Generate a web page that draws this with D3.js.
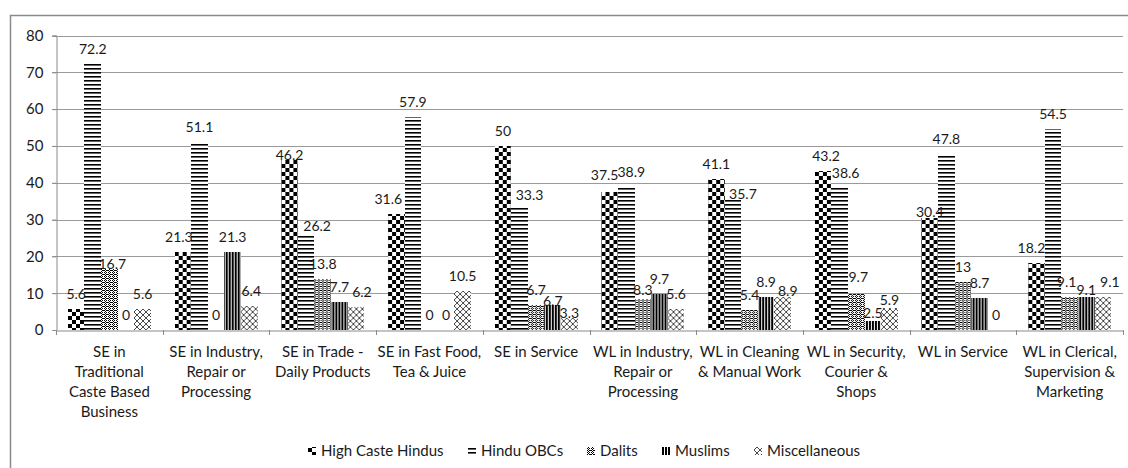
<!DOCTYPE html>
<html>
<head>
<meta charset="utf-8">
<script src="https://cdn.jsdelivr.net/npm/d3@7"></script>
<style>
  html, body { margin: 0; padding: 0; background: #fff; }
  svg { display: block; }
  text { font-family: Lato, "Liberation Sans", sans-serif; fill: #1a1a1a; }
</style>
</head>
<body>
<svg id="chart" width="1128" height="468"></svg>
<script>
// ---------- data ----------
const categoryLines = [
  ["SE in", "Traditional", "Caste Based", "Business"],
  ["SE in Industry,", "Repair or", "Processing"],
  ["SE in Trade -", "Daily Products"],
  ["SE in Fast Food,", "Tea & Juice"],
  ["SE in Service"],
  ["WL in Industry,", "Repair or", "Processing"],
  ["WL in Cleaning", "& Manual Work"],
  ["WL in Security,", "Courier &", "Shops"],
  ["WL in Service"],
  ["WL in Clerical,", "Supervision &", "Marketing"]
];
const categories = categoryLines.map(l => l.join(" "));
const seriesNames = ["High Caste Hindus", "Hindu OBCs", "Dalits", "Muslims", "Miscellaneous"];
const highCasteHindus = [5.6, 21.3, 46.2, 31.6, 50, 37.5, 41.1, 43.2, 30.4, 18.2];
const hinduOBCs       = [72.2, 51.1, 26.2, 57.9, 33.3, 38.9, 35.7, 38.6, 47.8, 54.5];
const dalits          = [16.7, 0, 13.8, 0, 6.7, 8.3, 5.4, 9.7, 13, 9.1];
const muslims         = [0, 21.3, 7.7, 0, 6.7, 9.7, 8.9, 2.5, 8.7, 9.1];
const miscellaneous   = [5.6, 6.4, 6.2, 10.5, 3.3, 5.6, 8.9, 5.9, 0, 9.1];
const yTicks = [0, 10, 20, 30, 40, 50, 60, 70, 80];

const seriesValues = [highCasteHindus, hinduOBCs, dalits, muslims, miscellaneous];
const patternIds = ["pHigh", "pOBC", "pDalit", "pMuslim", "pMisc"];

// label placement tweaks (category-series : [dx, dy]) to avoid collisions, as in the original
const labelNudge = {
  "0-2": [3, 10],
  "1-0": [-4, 0], "1-4": [2, 0],
  "2-0": [0, 10], "2-1": [11, 7], "2-4": [6, 0],
  "3-0": [-8, 0],
  "4-1": [10, 3], "4-3": [0, 11], "4-4": [0, 10],
  "5-0": [-5, -2], "5-1": [5, 0], "5-2": [0, 6],
  "6-1": [10, 10], "6-4": [5, 9],
  "7-0": [3, 0], "7-1": [6, 0], "7-2": [2, -2], "7-3": [0, 7], "7-4": [0, 7],
  "8-0": [0, 9],
  "9-0": [-5, 0], "9-2": [-3, 0], "9-3": [0, 8], "9-4": [7, 0]
};

// ---------- layout ----------
const svg = d3.select("#chart");
const plotLeft = 56, plotRight = 1123, plotTop = 35.5, plotBottom = 330;

const x0 = d3.scaleBand().domain(categories).range([plotLeft, plotRight]).paddingInner(0).paddingOuter(0);
const groupPad = 11.85;
const x1 = d3.scaleBand().domain(seriesNames).range([groupPad, x0.bandwidth() - groupPad]).padding(0);
const y = d3.scaleLinear().domain([0, 80]).range([plotBottom, plotTop]);

// ---------- patterns ----------
const defs = svg.append("defs");
let p = defs.append("pattern").attr("id", "pHigh").attr("patternUnits", "userSpaceOnUse")
  .attr("width", 8).attr("height", 8);
p.append("rect").attr("width", 8).attr("height", 8).attr("fill", "#fff");
p.append("rect").attr("x", 0).attr("y", 0).attr("width", 4).attr("height", 4).attr("fill", "#000");
p.append("rect").attr("x", 4).attr("y", 4).attr("width", 4).attr("height", 4).attr("fill", "#000");

p = defs.append("pattern").attr("id", "pOBC").attr("patternUnits", "userSpaceOnUse")
  .attr("width", 4).attr("height", 4);
p.append("rect").attr("width", 4).attr("height", 4).attr("fill", "#fff");
p.append("rect").attr("x", 0).attr("y", 0).attr("width", 4).attr("height", 1.6).attr("fill", "#000");

p = defs.append("pattern").attr("id", "pDalit").attr("patternUnits", "userSpaceOnUse")
  .attr("width", 4).attr("height", 4);
p.append("rect").attr("width", 4).attr("height", 4).attr("fill", "#fff");
[[0,0],[2,0],[1,1],[3,2],[0,2],[2,2],[1,3]].forEach(([a,b]) =>
  p.append("rect").attr("x", a).attr("y", b).attr("width", 1).attr("height", 1).attr("fill", "#000"));

p = defs.append("pattern").attr("id", "pMuslim").attr("patternUnits", "userSpaceOnUse")
  .attr("width", 3).attr("height", 3);
p.append("rect").attr("width", 3).attr("height", 3).attr("fill", "#fff");
p.append("rect").attr("x", 0).attr("y", 0).attr("width", 2).attr("height", 3).attr("fill", "#000");

p = defs.append("pattern").attr("id", "pMisc").attr("patternUnits", "userSpaceOnUse")
  .attr("width", 6).attr("height", 6);
p.append("rect").attr("width", 6).attr("height", 6).attr("fill", "#fff");
p.append("path").attr("d", "M-1,-1L7,7M7,-1L-1,7").attr("stroke", "#333").attr("stroke-width", 0.9).attr("fill", "none");

// ---------- outer frame ----------
svg.append("rect").attr("x", 10.5).attr("y", 15.5).attr("width", 1130).attr("height", 470)
  .attr("fill", "none").attr("stroke", "#8a8a8a").attr("stroke-width", 1.5);

// ---------- gridlines & y axis ----------
svg.append("g").selectAll("line").data(yTicks.filter(d => d > 0)).join("line")
  .attr("x1", plotLeft - 4).attr("x2", plotRight)
  .attr("y1", d => Math.round(y(d)) + 0.5).attr("y2", d => Math.round(y(d)) + 0.5)
  .attr("stroke", "#9a9a9a").attr("stroke-width", 1);

const yAxis = d3.axisLeft(y).tickValues(yTicks).tickSize(4).tickPadding(9);
const gy = svg.append("g").attr("transform", `translate(${plotLeft + 0.5},0)`).call(yAxis);
gy.select(".domain").attr("stroke", "#8a8a8a");
gy.selectAll(".tick line").attr("stroke", "#8a8a8a");
gy.selectAll(".tick text").attr("font-size", 15).attr("fill", "#1a1a1a")
  .style("font-family", "Lato, 'Liberation Sans', sans-serif");

// ---------- bars ----------
const groups = svg.append("g").selectAll("g").data(categories).join("g")
  .attr("transform", d => `translate(${x0(d)},0)`);

const cellData = (c, ci) => seriesNames.map((s, si) => ({ s, si, ci, v: seriesValues[si][ci] }));

groups.selectAll("rect").data(cellData)
  .join("rect")
  .attr("x", d => x1(d.s))
  .attr("width", x1.bandwidth())
  .attr("y", d => y(d.v))
  .attr("height", d => plotBottom - y(d.v))
  .attr("fill", d => `url(#${patternIds[d.si]})`)
  .attr("shape-rendering", "crispEdges");

groups.selectAll("text").data(cellData)
  .join("text")
  .attr("x", d => x1(d.s) + x1.bandwidth() / 2 + (labelNudge[`${d.ci}-${d.si}`] || [0, 0])[0])
  .attr("y", d => y(d.v) - 10 + (labelNudge[`${d.ci}-${d.si}`] || [0, 0])[1])
  .attr("text-anchor", "middle")
  .attr("font-size", 14)
  .attr("fill", "#333")
  .text(d => d.v);

// ---------- x axis ----------
const xAxis = d3.axisBottom(x0).tickSize(0).tickFormat("");
const gx = svg.append("g").attr("transform", `translate(0,${plotBottom + 0.5})`).call(xAxis);
gx.select(".domain").attr("stroke", "#8a8a8a");
svg.append("g").selectAll("line").data(d3.range(categories.length + 1)).join("line")
  .attr("x1", i => Math.round(plotLeft + i * x0.step()) + 0.5)
  .attr("x2", i => Math.round(plotLeft + i * x0.step()) + 0.5)
  .attr("y1", plotBottom).attr("y2", plotBottom + 5)
  .attr("stroke", "#8a8a8a");

const cl = svg.append("g").selectAll("text").data(categories).join("text")
  .attr("text-anchor", "middle")
  .attr("font-size", 15)
  .attr("x", d => x0(d) + x0.bandwidth() / 2)
  .attr("y", 357);
cl.each(function (d, i) {
  const t = d3.select(this);
  categoryLines[i].forEach((line, li) => {
    t.append("tspan").attr("x", x0(d) + x0.bandwidth() / 2).attr("dy", li === 0 ? 0 : 20).text(line);
  });
});

// ---------- legend ----------
const legend = svg.append("g");
const items = legend.selectAll("g").data(seriesNames).join("g");
items.append("rect").attr("width", 8).attr("height", 8).attr("y", 447)
  .attr("fill", (d, i) => `url(#${patternIds[i]})`).attr("shape-rendering", "crispEdges");
items.append("text").attr("x", 13).attr("y", 456).attr("font-size", 15).text(d => d);
let widths = [];
items.each(function () { widths.push(13 + this.querySelector("text").getComputedTextLength()); });
const gap = 24;
const total = d3.sum(widths) + gap * (widths.length - 1);
let cx = 584 - total / 2;
items.each(function (d, i) {
  d3.select(this).attr("transform", `translate(${Math.round(cx)},0)`);
  cx += widths[i] + gap;
});
</script>
</body>
</html>
